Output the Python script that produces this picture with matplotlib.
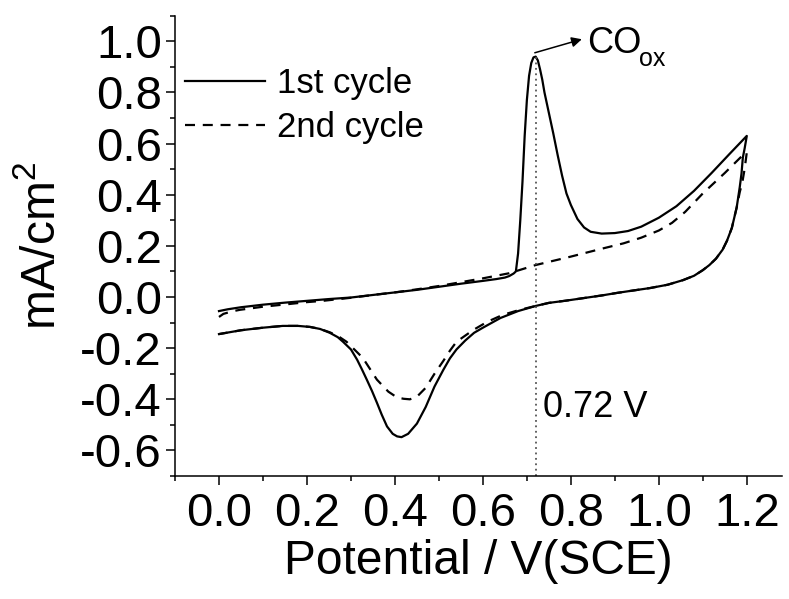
import matplotlib
matplotlib.use("Agg")
import matplotlib.pyplot as plt
from matplotlib.ticker import MultipleLocator, FixedLocator

plt.rcParams['font.family'] = ['Liberation Sans', 'DejaVu Sans']
plt.rcParams['mathtext.fontset'] = 'custom'
plt.rcParams['mathtext.rm'] = 'Liberation Sans'
plt.rcParams['mathtext.it'] = 'Liberation Sans'
plt.rcParams['axes.unicode_minus'] = False

# ---- 1st cycle: anodic sweep 0 -> 1.2 V, then cathodic sweep 1.2 -> 0 V ----
cyc1_fwd_E = [0.00, 0.02, 0.05, 0.10, 0.15, 0.20, 0.25, 0.30, 0.35, 0.40, 0.45,
              0.50, 0.55, 0.60, 0.63, 0.65, 0.66, 0.67, 0.675, 0.68, 0.685, 0.69,
              0.695, 0.70, 0.705, 0.71, 0.715, 0.72, 0.725, 0.73, 0.735, 0.74,
              0.75, 0.76, 0.77, 0.78, 0.79, 0.80, 0.815, 0.83, 0.845, 0.87, 0.90,
              0.93, 0.96, 1.00, 1.04, 1.08, 1.12, 1.16, 1.20]
cyc1_fwd_j = [-0.055, -0.048, -0.040, -0.030, -0.022, -0.015, -0.008, -0.002, 0.008,
              0.018, 0.028, 0.040, 0.052, 0.063, 0.070, 0.076, 0.082, 0.092, 0.100,
              0.170, 0.300, 0.450, 0.630, 0.770, 0.865, 0.915, 0.937, 0.940, 0.925,
              0.890, 0.850, 0.800, 0.720, 0.640, 0.555, 0.475, 0.405, 0.360, 0.305,
              0.272, 0.255, 0.248, 0.250, 0.258, 0.275, 0.310, 0.355, 0.415, 0.485,
              0.558, 0.630]
cyc1_rev_E = [1.20, 1.195, 1.191, 1.188, 1.184, 1.177, 1.166, 1.155, 1.145, 1.13,
              1.115, 1.10, 1.08, 1.055, 1.02, 0.98, 0.94, 0.905, 0.87, 0.83, 0.79,
              0.75, 0.72, 0.68, 0.64, 0.60, 0.58, 0.56, 0.54, 0.525, 0.51, 0.49,
              0.47, 0.45, 0.43, 0.415, 0.405, 0.395, 0.382, 0.37, 0.359, 0.348,
              0.336, 0.325, 0.314, 0.30, 0.282, 0.27, 0.252, 0.23, 0.207, 0.18,
              0.145, 0.10, 0.05, 0.00]
cyc1_rev_j = [0.630, 0.580, 0.545, 0.483, 0.430, 0.350, 0.270, 0.220, 0.185, 0.150,
              0.125, 0.105, 0.083, 0.066, 0.048, 0.035, 0.025, 0.016, 0.006, -0.004,
              -0.014, -0.023, -0.035, -0.055, -0.082, -0.120, -0.140, -0.170, -0.205,
              -0.240, -0.285, -0.350, -0.430, -0.495, -0.535, -0.548, -0.545, -0.535,
              -0.506, -0.460, -0.413, -0.368, -0.323, -0.283, -0.245, -0.205, -0.175,
              -0.157, -0.140, -0.125, -0.117, -0.113, -0.113, -0.120, -0.130, -0.145]

# ---- 2nd cycle ----
cyc2_fwd_E = [0.00, 0.01, 0.03, 0.048, 0.10, 0.145, 0.20, 0.236, 0.30, 0.35, 0.40,
              0.45, 0.50, 0.55, 0.60, 0.66, 0.72, 0.80, 0.873, 0.92, 0.96, 1.00,
              1.03, 1.06, 1.10, 1.15, 1.19, 1.20]
cyc2_fwd_j = [-0.078, -0.066, -0.056, -0.050, -0.038, -0.030, -0.020, -0.015, -0.003,
              0.008, 0.018, 0.030, 0.043, 0.058, 0.073, 0.093, 0.125, 0.158, 0.190,
              0.210, 0.232, 0.260, 0.290, 0.333, 0.405, 0.485, 0.553, 0.565]
cyc2_rev_E = [1.20, 1.195, 1.19, 1.184, 1.177, 1.166, 1.155, 1.145, 1.13, 1.115,
              1.10, 1.08, 1.055, 1.02, 0.98, 0.94, 0.905, 0.87, 0.83, 0.79, 0.75,
              0.72, 0.684, 0.645, 0.61, 0.578, 0.54, 0.525, 0.51, 0.49, 0.47, 0.45,
              0.434, 0.42, 0.405, 0.385, 0.359, 0.327, 0.29, 0.27, 0.252, 0.23,
              0.207, 0.18, 0.145, 0.10, 0.05, 0.00]
cyc2_rev_j = [0.565, 0.500, 0.450, 0.410, 0.350, 0.270, 0.220, 0.185, 0.150, 0.125,
              0.105, 0.083, 0.066, 0.048, 0.035, 0.025, 0.016, 0.006, -0.004, -0.014,
              -0.023, -0.035, -0.050, -0.070, -0.097, -0.129, -0.175, -0.210, -0.250,
              -0.300, -0.355, -0.390, -0.400, -0.398, -0.393, -0.370, -0.323, -0.238,
              -0.175, -0.152, -0.138, -0.125, -0.117, -0.113, -0.113, -0.120, -0.130,
              -0.145]

series_labels = ['1st cycle', '2nd cycle']
peak_E = 0.72
peak_j = 0.94
x_ticks = [0.0, 0.2, 0.4, 0.6, 0.8, 1.0, 1.2]
y_ticks = [-0.6, -0.4, -0.2, 0.0, 0.2, 0.4, 0.6, 0.8, 1.0]

fig = plt.figure(figsize=(7.89, 5.99), dpi=100)
ax = fig.add_axes([0.2218, 0.2053, 0.7693, 0.7685])

lw = 1.6
ax.plot(cyc1_fwd_E + cyc1_rev_E, cyc1_fwd_j + cyc1_rev_j, color='black', lw=lw,
        solid_joinstyle='round', label=series_labels[0])
ax.plot(cyc2_fwd_E + cyc2_rev_E, cyc2_fwd_j + cyc2_rev_j, color='black', lw=lw,
        linestyle=(0, (4.5, 3.5)), label=series_labels[1])

ax.set_xlim(-0.1, 1.28)
ax.set_ylim(-0.7, 1.1)

# peak marker line and annotations
ax.plot([peak_E, peak_E], [-0.7, peak_j], color='#555555', lw=1.3,
        linestyle=(0, (1, 2)))
ax.text(0.736, -0.471, f'{peak_E:.2f} V', fontsize=26, ha='left', va='baseline')
ax.annotate('', xy=(0.825, 1.008), xytext=(0.718, 0.955),
            arrowprops=dict(arrowstyle='-|>', color='black', lw=1.1,
                            mutation_scale=15, shrinkA=0, shrinkB=0))
ax.text(0.836, 0.954, 'CO', fontsize=26, ha='left', va='baseline')
ax.text(0.955, 0.904, 'ox', fontsize=18, ha='left', va='baseline')

for side in ('top', 'right'):
    ax.spines[side].set_visible(False)
for side in ('left', 'bottom'):
    ax.spines[side].set_linewidth(1.1)

ax.xaxis.set_major_locator(FixedLocator(x_ticks))
ax.yaxis.set_major_locator(FixedLocator(y_ticks))
ax.xaxis.set_minor_locator(MultipleLocator(0.1))
ax.yaxis.set_minor_locator(MultipleLocator(0.1))
ax.set_xticklabels([f'{v:.1f}' for v in x_ticks])
ax.set_yticklabels([f'{v:.1f}' for v in y_ticks])
ax.tick_params(which='major', direction='out', length=6.5, width=1.1,
               labelsize=34, pad=3)
ax.tick_params(axis='x', which='major', pad=5)
ax.tick_params(which='minor', direction='out', length=3.6, width=1.1)

ax.set_xlabel('Potential / V(SCE)', fontsize=34.5, labelpad=2)
ax.set_ylabel('mA/cm$^{\\mathrm{2}}$', fontsize=34.5, labelpad=11)

leg = ax.legend(loc='upper left', bbox_to_anchor=(0.0165, 0.8875), frameon=False,
                fontsize=25, handlelength=2.3, handletextpad=0.35,
                borderpad=0, borderaxespad=0, labelspacing=0.31)

fig.savefig('out.png', dpi=100)
